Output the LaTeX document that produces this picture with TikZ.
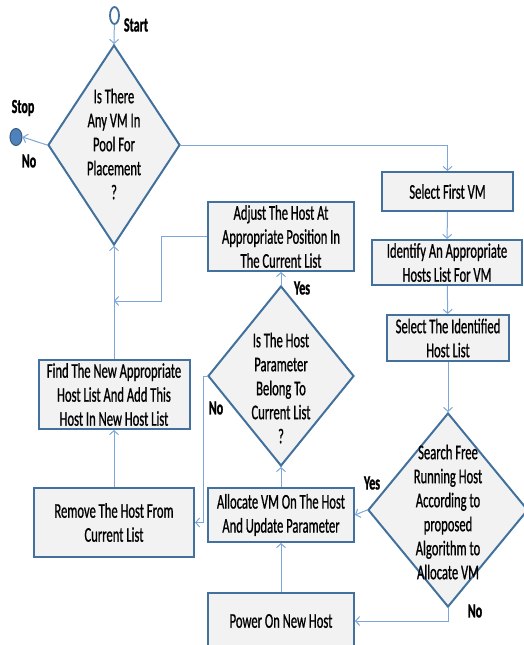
\documentclass[tikz,border=0pt]{standalone}
\usepackage{fontspec}
\setmainfont[FakeStretch=0.6,FakeBold=0.8,BoldFont={Carlito Bold},BoldFeatures={FakeStretch=0.6,FakeBold=1.2}]{Carlito}
\usetikzlibrary{shapes.geometric,arrows.meta}
\definecolor{edgeblue}{HTML}{41719C}
\definecolor{boxfill}{HTML}{F2F2F2}
\definecolor{linkblue}{HTML}{7EA6D8}
\definecolor{stopfill}{HTML}{4F81BD}
\begin{document}
\begin{tikzpicture}[x=1pt,y=-1pt,
  every node/.style={inner sep=0pt},
  stepbox/.style={rectangle, draw=edgeblue, line width=2pt, fill=boxfill,
    align=center, font=\fontsize{21}{24}\selectfont},
  decision/.style={diamond, draw=edgeblue, line width=2pt, fill=boxfill},
  dtext/.style={align=center, font=\fontsize{21}{24}\selectfont},
  lbl/.style={font=\bfseries\fontsize{20}{24}\selectfont},
  link/.style={draw=linkblue, line width=1pt, -{Straight Barb[length=4pt,width=9pt]}}]
\useasboundingbox (0,0) rectangle (523,645);

% terminals
\node[ellipse, draw=edgeblue, line width=1.8pt, fill=white,
      minimum width=9pt, minimum height=17pt] (start) at (114.5,15.5) {};
\node[lbl] (startlbl) at (136,25) {Start};
\node[ellipse, draw=edgeblue!80!black, line width=1pt, fill=stopfill,
      minimum width=12pt, minimum height=17pt] (stop) at (16,137) {};
\node[lbl] (stoplbl) at (23,108) {Stop};

% decisions
\node[decision, minimum width=132pt, minimum height=200pt] (d1) at (114,145) {};
\node[dtext] (d1t) at (114,144) {Is There\\Any VM In\\Pool For\\Placement\\?};
\node[decision, minimum width=146pt, minimum height=180pt] (d3) at (281,376) {};
\node[dtext] (d3t) at (281,388) {Is The Host\\Parameter\\Belong To\\Current List\\?};
\node[decision, minimum width=160pt, minimum height=194pt] (d2) at (448,510) {};
\node[dtext] (d2t) at (448,512) {Search Free\\Running Host\\According to\\proposed\\Algorithm to\\Allocate VM};

% process boxes
\node[stepbox, minimum width=131pt, minimum height=39pt] (sfvm) at (447.5,191.5) {Select First VM};
\node[stepbox, minimum width=150pt, minimum height=45pt] (ident) at (447,262.5) {Identify An Appropriate\\Hosts List For VM};
\node[stepbox, minimum width=122pt, minimum height=46pt] (selid) at (448,338) {Select The Identified\\Host List};
\node[stepbox, minimum width=146pt, minimum height=69pt] (adjust) at (281,236.5) {Adjust The Host At\\Appropriate Position In\\The Current List};
\node[stepbox, minimum width=151pt, minimum height=69pt] (find) at (114,394.5) {Find The New Appropriate\\Host List And Add This\\Host In New Host List};
\node[stepbox, minimum width=160pt, minimum height=69pt] (remove) at (114,522.5) {Remove The Host From\\Current List};
\node[stepbox, minimum width=146pt, minimum height=54pt] (alloc) at (281,515) {Allocate VM On The Host\\And Update Parameter};
\node[stepbox, minimum width=146pt, minimum height=56pt] (power) at (281,621) {Power On New Host};

% branch labels
\node[lbl] (no1) at (29,161) {No};
\node[lbl] (yes3) at (302,288) {Yes};
\node[lbl] (no3) at (216,408) {No};
\node[lbl] (yes2) at (372,483) {Yes};
\node[lbl] (no2) at (475,611) {No};

\coordinate (join) at (114,301);

% connectors
\draw[link] (start) -- (d1.north);
\draw[link] (d1.west) -- (stop.east);
\draw[link] (d1.east) -| (sfvm.north);
\draw[link] (sfvm) -- (ident);
\draw[link] (ident) -- (selid);
\draw[link] (selid.south) -- (d2.north);
\draw[link] (d2.west) -- (alloc.east);
\draw[link] (d2.south) |- (power.east);
\draw[link] (power) -- (alloc);
\draw[link] (alloc.north) -- (d3.south);
\draw[link] (d3.north) -- (adjust.south);
\draw[link] (d3.west) -- ++(-4,0) |- (remove.east);
\draw[link] (adjust.west) -- ++(-46,0) |- (join);
\draw[link] (remove) -- (find);
\draw[link] (find.north) -- (d1.south);
\end{tikzpicture}
\end{document}
